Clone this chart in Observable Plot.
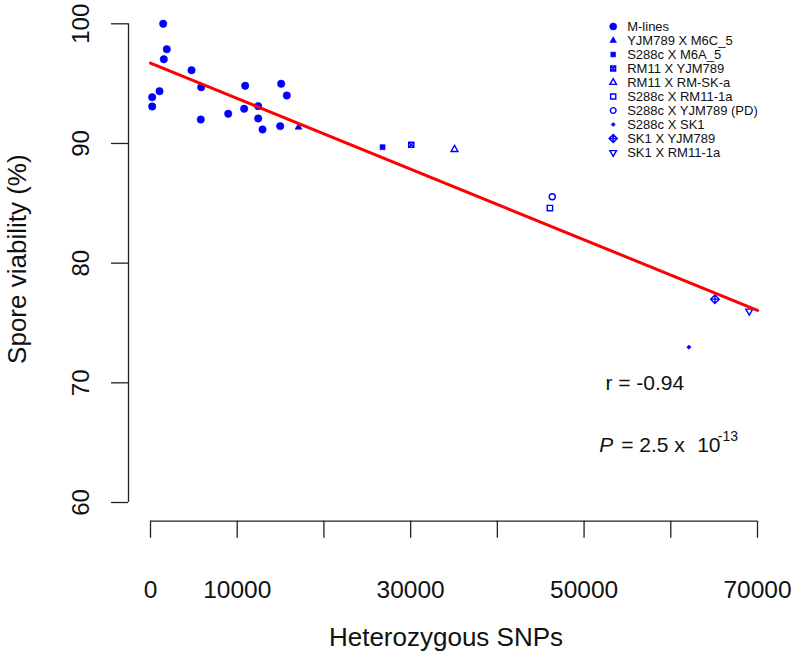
<!DOCTYPE html>
<html>
<head>
<meta charset="utf-8">
<script src="https://cdn.jsdelivr.net/npm/d3@7"></script>
<script src="https://cdn.jsdelivr.net/npm/@observablehq/plot@0.6"></script>
<style>
  html, body { margin: 0; padding: 0; background: #fff; }
  #wrap { position: relative; width: 797px; height: 655px; }
  #wrap > svg, #wrap > div { position: absolute; left: 0; top: 0; }
  #legend { pointer-events: none; }
</style>
</head>
<body>
<div id="wrap"></div>
<script>
// ---------- data ----------
const mLinesX = [1465, 1880, 1535, 4730, 5845, 1040, 195, 195, 5800, 8960, 10920, 10800, 12420, 12420, 12920, 15070, 15720, 14960];
const mLinesY = [100.0, 97.88, 97.04, 96.12, 94.70, 94.37, 93.87, 93.09, 92.0, 92.48, 94.82, 92.9, 93.12, 92.09, 91.17, 94.99, 94.01, 91.45];

const crossNames = ["YJM789 X M6C_5", "S288c X M6A_5", "RM11 X YJM789", "RM11 X RM-SK-a", "S288c X RM11-1a",
  "S288c X YJM789 (PD)", "S288c X SK1", "SK1 X YJM789", "SK1 X RM11-1a"];
const crossX = [17070, 26760, 30070, 35060, 46060, 46330, 62090, 65090, 69050];
const crossY = [91.36, 89.69, 89.89, 89.5, 84.6, 85.55, 72.98, 76.99, 75.99];

const legendNames = ["M-lines", ...crossNames];

const fitX = [0, 70000];
const fitY = [96.71, 76.05];

const xTicks = [0, 10000, 20000, 30000, 40000, 50000, 60000, 70000];
const xLabels = [0, 10000, 30000, 50000, 70000];
const yTicks = [60, 70, 80, 90, 100];

const rText = "r = -0.94";
const pMantissa = "= 2.5 x";
const pBase = "10";
const pExp = "-13";

// ---------- symbols (R pch look-alikes) ----------
const S = size => Math.sqrt(size / Math.PI);
const symbols = {
  circle: { draw(c, size) { const s = S(size); c.moveTo(s, 0); c.arc(0, 0, s, 0, 2 * Math.PI); } },
  triUp: { draw(c, size) { const s = S(size); c.moveTo(0, -s); c.lineTo(s * 0.866, s * 0.5); c.lineTo(-s * 0.866, s * 0.5); c.closePath(); } },
  triDown: { draw(c, size) { const s = S(size); c.moveTo(0, s); c.lineTo(s * 0.866, -s * 0.5); c.lineTo(-s * 0.866, -s * 0.5); c.closePath(); } },
  square: { draw(c, size) { const s = S(size); c.rect(-s, -s, 2 * s, 2 * s); } },
  squareX: { draw(c, size) { const s = S(size); c.rect(-s, -s, 2 * s, 2 * s); c.moveTo(-s, -s); c.lineTo(s, s); c.moveTo(s, -s); c.lineTo(-s, s); } },
  diamond: { draw(c, size) { const s = S(size); c.moveTo(0, -s); c.lineTo(s, 0); c.lineTo(0, s); c.lineTo(-s, 0); c.closePath(); } },
  diamondPlus: { draw(c, size) { const s = S(size); c.moveTo(0, -s); c.lineTo(s, 0); c.lineTo(0, s); c.lineTo(-s, 0); c.closePath(); c.moveTo(0, -s); c.lineTo(0, s); c.moveTo(-s, 0); c.lineTo(s, 0); } }
};

// style per legend entry: [symbol, filled, radius]
const styleOf = {
  "M-lines": ["circle", true, 3.7],
  "YJM789 X M6C_5": ["triUp", true, 4.0],
  "S288c X M6A_5": ["square", true, 2.5],
  "RM11 X YJM789": ["squareX", false, 2.6],
  "RM11 X RM-SK-a": ["triUp", false, 4.0],
  "S288c X RM11-1a": ["square", false, 2.7],
  "S288c X YJM789 (PD)": ["circle", false, 3.0],
  "S288c X SK1": ["diamond", true, 2.2],
  "SK1 X YJM789": ["diamondPlus", false, 4.3],
  "SK1 X RM11-1a": ["triDown", false, 4.0]
};

const BLUE = "#0000ff";
const FONT = "'Liberation Sans', Arial, Helvetica, sans-serif";

// ---------- rows ----------
const mRows = mLinesX.map((x, i) => ({x, y: mLinesY[i], g: "M-lines"}));
const cRows = crossX.map((x, i) => ({x, y: crossY[i], g: crossNames[i]}));
const fitRows = fitX.map((x, i) => ({x, y: fitY[i]}));

function dotMarks(rows, xKey, yKey) {
  return legendNames.map(name => {
    const [sym, filled, r] = styleOf[name];
    const sub = rows.filter(d => d.g === name);
    return Plot.dot(sub, {
      x: xKey, y: yKey, r, symbol: symbols[sym],
      fill: filled ? BLUE : "none",
      stroke: BLUE,
      strokeWidth: filled ? 0.6 : 1.4
    });
  });
}

const chart = Plot.plot({
  width: 797,
  height: 655,
  marginLeft: 150,
  marginRight: 40,
  marginTop: 23.3,
  marginBottom: 153,
  style: { fontFamily: FONT, background: "white", color: "black" },
  x: { domain: [0, 70000], axis: null },
  y: { domain: [60, 100], axis: null },
  marks: [
    // axis lines
    Plot.ruleX([0], { dx: -22, stroke: "#222", strokeWidth: 1.3 }),
    Plot.ruleY([60], { dy: 18.7, stroke: "#222", strokeWidth: 1.3 }),
    // ticks
    Plot.axisY({ ticks: yTicks, tickSize: 17, dx: -22, tickFormat: () => "", label: null, stroke: "#222", strokeWidth: 1.3 }),
    Plot.axisX({ ticks: xTicks, tickSize: 17, dy: 18.7, tickFormat: () => "", label: null, stroke: "#222", strokeWidth: 1.3 }),
    // tick labels
    Plot.text(yTicks, { y: d => d, text: d => String(d), frameAnchor: "left", textAnchor: "middle", lineAnchor: "middle", dx: -69, rotate: -90, fontSize: 24, fill: "#111" }),
    Plot.text(xLabels, { x: d => d, text: d => String(d), frameAnchor: "bottom", textAnchor: "middle", lineAnchor: "middle", dy: 88, fontSize: 24.5, fill: "#111" }),
    // axis titles
    Plot.text(["Heterozygous SNPs"], { text: d => d, frameAnchor: "bottom", textAnchor: "middle", lineAnchor: "middle", dx: -8, dy: 135, fontSize: 26, fill: "#111" }),
    Plot.text(["Spore viability (%)"], { text: d => d, frameAnchor: "left", textAnchor: "middle", lineAnchor: "middle", dx: -133, dy: -4, rotate: -90, fontSize: 26, fill: "#111" }),
    // points
    ...dotMarks([...mRows, ...cRows], "x", "y"),
    // regression line
    Plot.line(fitRows, { x: "x", y: "y", stroke: "#ff0000", strokeWidth: 3 }),
    // annotations
    Plot.text([{x: 57000, y: 70}], { x: "x", y: "y", text: () => rText, fontSize: 21, fill: "#111" }),
    Plot.text([{x: 60000, y: 65}], { x: "x", y: "y", text: () => "P", textAnchor: "start", dx: -71.6, dy: 3, fontSize: 21, fontStyle: "italic", fill: "#111" }),
    Plot.text([{x: 60000, y: 65}], { x: "x", y: "y", text: () => pMantissa, textAnchor: "start", dx: -49.6, dy: 3, fontSize: 21, fill: "#111" }),
    Plot.text([{x: 60000, y: 65}], { x: "x", y: "y", text: () => pBase, textAnchor: "start", dx: 26.4, dy: 3, fontSize: 21, fill: "#111" }),
    Plot.text([{x: 60000, y: 65}], { x: "x", y: "y", text: () => pExp, textAnchor: "start", dx: 47, dy: -6, fontSize: 14, fill: "#111" })
  ]
});

// ---------- legend (overlay, same pixel frame) ----------
const legRows = legendNames.map(g => ({g}));
const legend = Plot.plot({
  width: 797,
  height: 170,
  margin: 0,
  style: { fontFamily: FONT, background: "transparent", color: "black" },
  x: { domain: [0, 1], range: [612.7, 626.7], axis: null },
  y: { type: "point", domain: legendNames, range: [22.3, 156.4], padding: 0, axis: null },
  marks: [
    ...legendNames.map(name => {
      const [sym, filled, r] = styleOf[name];
      return Plot.dot(legRows.filter(d => d.g === name), {
        x: () => 0, y: "g", r: r * 0.95, symbol: symbols[sym],
        fill: filled ? BLUE : "none", stroke: BLUE, strokeWidth: filled ? 0.6 : 1.4
      });
    }),
    Plot.text(legRows, { x: () => 1, y: "g", text: "g", textAnchor: "start", lineAnchor: "middle", fontSize: 13, fill: "#111" })
  ]
});
legend.id = "legend";

const wrap = document.getElementById("wrap");
wrap.appendChild(chart);
wrap.appendChild(legend);
</script>
</body>
</html>
